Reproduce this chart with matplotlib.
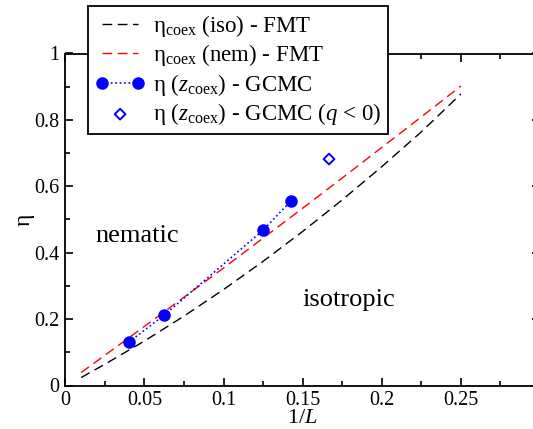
import numpy as np
import matplotlib
matplotlib.use("Agg")
import matplotlib.pyplot as plt
from matplotlib.ticker import FixedLocator, MultipleLocator, FormatStrFormatter

plt.rcParams['font.family'] = ['Liberation Serif', 'DejaVu Serif']
plt.rcParams['mathtext.fontset'] = 'custom'
plt.rcParams['mathtext.rm'] = 'Liberation Serif'
plt.rcParams['mathtext.it'] = 'Liberation Serif:italic'

# FMT coexistence curves
x_fmt = [0.01, 0.025, 0.05, 0.075, 0.1, 0.125, 0.15, 0.175, 0.2, 0.225, 0.25]
eta_iso = [0.024, 0.064, 0.134, 0.209, 0.289, 0.374, 0.464, 0.559, 0.659, 0.764, 0.878]
eta_nem = [0.039, 0.091, 0.178, 0.266, 0.354, 0.444, 0.534, 0.625, 0.717, 0.809, 0.902]

# GCMC points
x_gcmc = [1/25, 1/16, 1/8, 1/7]
eta_gcmc = [0.130, 0.212, 0.468, 0.557]
x_neg = [1/6]
eta_neg = [0.682]

W, H = 533, 429
fig = plt.figure(figsize=(W/100, H/100), dpi=100)
ax = fig.add_axes([65.3/W, 1-385.5/H, (540-65.3)/W, (385.5-53.5)/H])

ax.plot(x_fmt, eta_iso, color='black', lw=1.0, ls=(0, (7, 4)),
        label=r'η$_{\rm coex}$ (iso) - FMT')
ax.plot(x_fmt, eta_nem, color='red', lw=1.0, ls=(0, (7, 4)),
        label=r'η$_{\rm coex}$ (nem) - FMT')
ax.plot(x_gcmc, eta_gcmc, color='blue', lw=1.2, ls=':', marker='o', ms=8,
        label=r'η ($z_{\rm coex}$) - GCMC')
ax.scatter(x_neg, eta_neg, marker='D', s=30, facecolors='none', edgecolors='blue',
           linewidths=1.4, label=r'η ($z_{\rm coex}$) - GCMC ($q$ < 0)')

ax.text(0.0457, 0.45, 'nematic', fontsize=19, ha='center', va='center')
ax.text(0.179, 0.257, 'isotropic', fontsize=19, ha='center', va='center')

ax.set_xlim(0, 0.3)
ax.set_ylim(0, 1)
ax.xaxis.set_major_locator(FixedLocator([0, 0.05, 0.1, 0.15, 0.2, 0.25]))
ax.xaxis.set_minor_locator(MultipleLocator(0.025))
ax.yaxis.set_major_locator(MultipleLocator(0.2))
ax.yaxis.set_minor_locator(MultipleLocator(0.1))
ax.xaxis.set_major_formatter(FormatStrFormatter('%g'))
ax.yaxis.set_major_formatter(FormatStrFormatter('%g'))
ax.tick_params(which='both', direction='in', top=True, right=True, width=1.2, labelsize=14.5)
ax.tick_params(which='major', length=6, pad=4)
ax.tick_params(which='minor', length=3.5)
for s in ax.spines.values():
    s.set_linewidth(1.3)

ax.set_xlabel(r'1/$L$', fontsize=16, labelpad=-1)
ax.set_ylabel('η', fontsize=17, labelpad=0)

leg = fig.legend(loc='upper left', bbox_to_anchor=(88/W, 1-6/H), borderaxespad=0,
                 fontsize=16.5, numpoints=2, scatterpoints=1, handlelength=2.2,
                 handletextpad=0.35, labelspacing=0.15, borderpad=0.3,
                 fancybox=False, framealpha=1, edgecolor='black')
leg.get_frame().set_linewidth(1.3)

fig.savefig('out.png', dpi=100)
